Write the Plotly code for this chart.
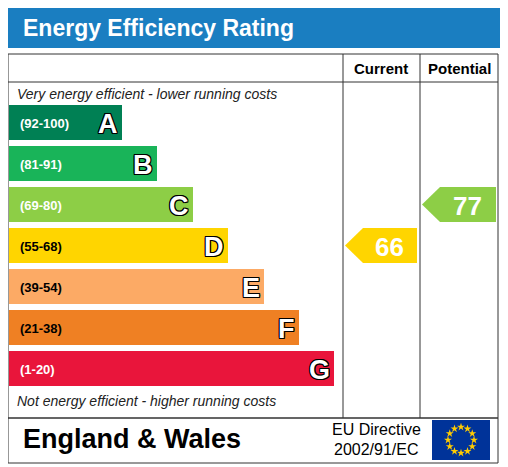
import plotly.graph_objects as go
import numpy as np

letters = ["A", "B", "C", "D", "E", "F", "G"]
ranges = ["(92-100)", "(81-91)", "(69-80)", "(55-68)", "(39-54)", "(21-38)", "(1-20)"]
lows = [92, 81, 69, 55, 39, 21, 1]
bar_len = [113, 148, 184, 219, 255, 290, 325]
colors = ["#008054", "#19b459", "#8dce46", "#ffd500", "#fcaa65", "#ef8023", "#e9153b"]
range_txt_col = ["white", "white", "white", "black", "black", "black", "white"]
current = 66
potential = 77

FONT = "Liberation Sans, Arial, sans-serif"
y0, step, h = 122.5, 41, 35
yc = [y0 + i * step for i in range(len(letters))]
left = 9

def band(v):
    for i, lo in enumerate(lows):
        if v >= lo:
            return i
    return len(lows) - 1

fig = go.Figure()
fig.add_trace(go.Bar(y=yc, x=bar_len, base=left, orientation="h", width=h,
                     marker=dict(color=colors, line=dict(width=0)),
                     hoverinfo="skip", showlegend=False))

shapes = []
ann = []
outline = "-1px -1px 0 #000, 1px -1px 0 #000, -1px 1px 0 #000, 1px 1px 0 #000, 0 1px 0 #000, 0 -1px 0 #000, 1px 0 0 #000, -1px 0 0 #000"
for i in range(len(letters)):
    ann.append(dict(x=left + 9, y=yc[i] + 1, text="<b>%s</b>" % ranges[i], xanchor="left", showarrow=False,
                    font=dict(family=FONT, size=13, color=range_txt_col[i])))
    ann.append(dict(x=left + bar_len[i] - 2, y=yc[i] + 1, text="<b>%s</b>" % letters[i], xanchor="right", showarrow=False,
                    font=dict(family=FONT, size=27, color="white", shadow=outline)))

def arrow(value, x_l, x_r):
    i = band(value)
    c = yc[i]
    hh = h / 2
    xs = [x_l, x_l + 18, x_r, x_r, x_l + 18, x_l]
    ys = [c, c - hh, c - hh, c + hh, c + hh, c]
    fig.add_trace(go.Scatter(x=xs, y=ys, fill="toself", fillcolor=colors[i], mode="lines",
                             line=dict(width=0, color=colors[i]), hoverinfo="skip", showlegend=False))
    ann.append(dict(x=(x_l + x_r) / 2 + 8, y=c + 1, text="<b>%d</b>" % value, showarrow=False,
                    font=dict(family=FONT, size=26, color="white")))

arrow(current, 345, 417)
arrow(potential, 422, 496)

shapes.append(dict(type="rect", x0=8, x1=500, y0=8, y1=48, fillcolor="#1a7ec1", line=dict(width=0), layer="below"))
gl = dict(color="#333", width=1)
shapes.append(dict(type="rect", x0=8, x1=498, y0=54, y1=418, line=gl, layer="below"))
shapes.append(dict(type="rect", x0=8, x1=498, y0=418, y1=463, line=gl, layer="below"))
shapes.append(dict(type="line", x0=8, x1=498, y0=82, y1=82, line=gl, layer="below"))
shapes.append(dict(type="line", x0=343, x1=343, y0=54, y1=418, line=gl, layer="below"))
shapes.append(dict(type="line", x0=420, x1=420, y0=54, y1=418, line=gl, layer="below"))
shapes.append(dict(type="rect", x0=432, x1=490, y0=420, y1=460, fillcolor="#003399", line=dict(width=0), layer="below"))

ang = np.arange(12) * np.pi / 6
fig.add_trace(go.Scatter(x=461 + 13 * np.cos(ang), y=440 + 13 * np.sin(ang), mode="markers",
                         marker=dict(symbol="star", size=6, color="#ffcc00"), hoverinfo="skip", showlegend=False))

ann += [
    dict(x=21, y=28, text="<b>Energy Efficiency Rating</b>", xanchor="left", showarrow=False,
         font=dict(family=FONT, size=23, color="white")),
    dict(x=381, y=68, text="<b>Current</b>", showarrow=False, font=dict(family=FONT, size=15, color="black")),
    dict(x=459, y=68, text="<b>Potential</b>", showarrow=False, font=dict(family=FONT, size=15, color="black")),
    dict(x=15, y=94, text="<i>Very energy efficient - lower running costs</i>", xanchor="left", showarrow=False,
         font=dict(family=FONT, size=14, color="#222")),
    dict(x=15, y=401, text="<i>Not energy efficient - higher running costs</i>", xanchor="left", showarrow=False,
         font=dict(family=FONT, size=14, color="#222")),
    dict(x=21, y=439, text="<b>England & Wales</b>", xanchor="left", showarrow=False,
         font=dict(family=FONT, size=27, color="black")),
    dict(x=376, y=429, text="EU Directive", showarrow=False, font=dict(family=FONT, size=16, color="black")),
    dict(x=376, y=449, text="2002/91/EC", showarrow=False, font=dict(family=FONT, size=16, color="black")),
]

fig.update_layout(width=508, height=467, margin=dict(l=0, r=0, t=0, b=0),
                  paper_bgcolor="white", plot_bgcolor="white",
                  xaxis=dict(range=[8, 516], visible=False, fixedrange=True),
                  yaxis=dict(range=[475, 8], visible=False, fixedrange=True),
                  shapes=shapes, annotations=ann, bargap=0)
fig.write_html("out.html", config={"displayModeBar": False})
